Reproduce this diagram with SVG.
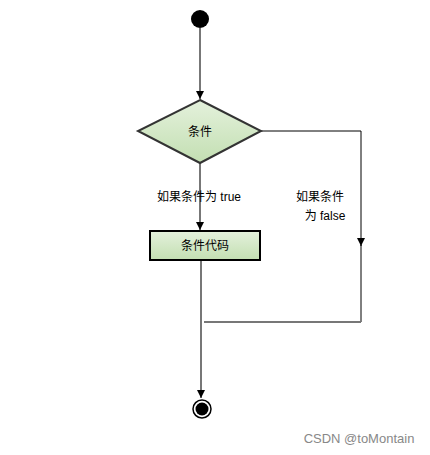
<svg xmlns="http://www.w3.org/2000/svg" width="430" height="455" viewBox="0 0 430 455">
<defs>
<linearGradient id="g" x1="0" y1="0" x2="0" y2="1">
<stop offset="0" stop-color="#e4f1dc"/>
<stop offset="1" stop-color="#c3dfb2"/>
</linearGradient>
<marker id="a" viewBox="0 0 10 10" refX="10" refY="5" markerWidth="8" markerHeight="8" markerUnits="userSpaceOnUse" orient="auto">
<path d="M0,0 L10,5 L0,10 Z" fill="#000"/>
</marker>
<style>
text{font-family:"Liberation Sans","Noto Sans CJK SC",sans-serif;font-size:12px;fill:#000;text-anchor:middle}
.c{fill:none;stroke:#777;stroke-width:2}
.k{fill:none;stroke:#000;stroke-width:1}
</style>
</defs>
<rect width="430" height="455" fill="#fff"/>
<g id="connectors">
<path class="c" d="M200,28 V99" marker-end="url(#a)"/>
<path class="c" d="M200,163 V230" marker-end="url(#a)"/>
<path class="k" d="M261,131 H361 V246" marker-end="url(#a)"/>
<path class="k" d="M361,245 V322"/>
<path class="c" d="M361,322 H204"/>
<path class="c" d="M201,261 V398" marker-end="url(#a)"/>
<text x="199" y="201">如果条件为 true</text>
<text x="320" y="201">如果条件</text>
<text x="325" y="220">为 false</text>
</g>
<g id="start"><circle cx="200" cy="19" r="9" fill="#000"/></g>
<g id="cond">
<polygon points="200,100 261,131 200,163 138,131" fill="url(#g)" stroke="#333" stroke-width="2"/>
<text x="200" y="136">条件</text>
</g>
<g id="code">
<rect x="150" y="231" width="110" height="29" fill="url(#g)" stroke="#000" stroke-width="2"/>
<text x="205" y="250">条件代码</text>
</g>
<g id="end">
<circle cx="202" cy="409" r="9" fill="#fff" stroke="#000" stroke-width="1.5"/>
<circle cx="202" cy="409" r="6.5" fill="#000"/>
</g>
<text x="359" y="443" style="fill:#888;font-size:13px">CSDN @toMontain</text>
</svg>
